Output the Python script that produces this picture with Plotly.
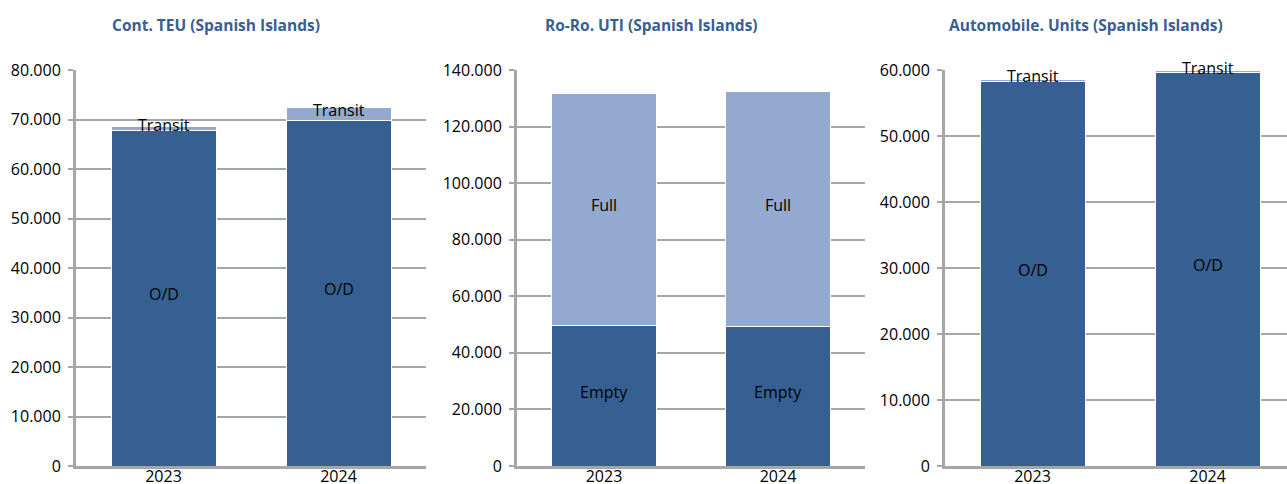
import plotly.graph_objects as go

years = ["2023", "2024"]

teu_od = [67700, 69750]
teu_transit = [800, 2750]

roro_empty = [49850, 49150]
roro_full = [81900, 83400]

auto_od = [58300, 59550]
auto_transit = [300, 300]

titles = ["Cont. TEU (Spanish Islands)", "Ro-Ro. UTI (Spanish Islands)", "Automobile. Units (Spanish Islands)"]
y_max = [80000, 140000, 60000]
y_step = [10000, 20000, 10000]

DARK = "#376092"
LIGHT = "#93A9CF"
GRID = "#A6A6A6"
FONT = "Open Sans"

W, H = 1287, 484
fig = go.Figure()

panels = [
    [("O/D", teu_od, DARK), ("Transit", teu_transit, LIGHT)],
    [("Empty", roro_empty, DARK), ("Full", roro_full, LIGHT)],
    [("O/D", auto_od, DARK), ("Transit", auto_transit, LIGHT)],
]

x_px = [(76, 426), (517, 865), (945, 1287)]
x_ranges = [[-0.5, 1.5], [-0.5, 1.5], [-0.5, 1.454]]
title_x = [216, 651, 1086]
y_dom = [(484 - 466) / H, (484 - 70) / H]

annotations = []
for i, segs in enumerate(panels):
    xa = "x" if i == 0 else f"x{i+1}"
    ya = "y" if i == 0 else f"y{i+1}"
    base = [0] * len(years)
    for name, vals, col in segs:
        fig.add_trace(go.Bar(
            x=years, y=vals, name=name, marker=dict(color=col, line=dict(color="white", width=1)),
            width=0.6, xaxis=xa, yaxis=ya, showlegend=False, hoverinfo="skip",
        ))
        for k, yr in enumerate(years):
            annotations.append(dict(
                x=k, y=base[k] + vals[k] / 2, xref=xa, yref=ya, text=name, showarrow=False,
                yshift=4, font=dict(family=FONT, size=16, color="black"),
            ))
        base = [b + v for b, v in zip(base, vals)]

    axis_suffix = "" if i == 0 else str(i + 1)
    fig.update_layout(**{
        f"xaxis{axis_suffix}": dict(
            domain=[x_px[i][0] / W, x_px[i][1] / W], range=x_ranges[i], type="category",
            anchor=ya, showline=True, linecolor=GRID, linewidth=3, showgrid=False,
            ticks="", ticklabelstandoff=-6,
            tickfont=dict(family=FONT, size=16, color="black"), fixedrange=True,
        ),
        f"yaxis{axis_suffix}": dict(
            domain=list(y_dom), range=[0, y_max[i]], dtick=y_step[i], anchor=xa,
            showline=True, linecolor=GRID, linewidth=3, showgrid=True, gridcolor=GRID,
            gridwidth=1.5, zeroline=False, ticks="outside", ticklen=5, tickcolor=GRID, tickwidth=1.5,
            tickformat=",d", ticklabelstandoff=4,
            tickfont=dict(family=FONT, size=16, color="black"), fixedrange=True,
        ),
    })
    annotations.append(dict(
        x=title_x[i] / W, y=(484 - 25) / H, xref="paper", yref="paper", text=f"<b>{titles[i]}</b>",
        showarrow=False, xanchor="center", yanchor="middle",
        font=dict(family=FONT, size=15.5, color="#376092"),
    ))

fig.update_layout(
    barmode="stack", width=W, height=H, margin=dict(l=0, r=0, t=0, b=0, autoexpand=False),
    paper_bgcolor="white", plot_bgcolor="white", separators=",.",
    annotations=annotations, hovermode=False,
)

fig.write_html("out.html", config={"displayModeBar": False},
               post_script="document.body.style.margin='0';document.body.style.overflow='hidden';")
